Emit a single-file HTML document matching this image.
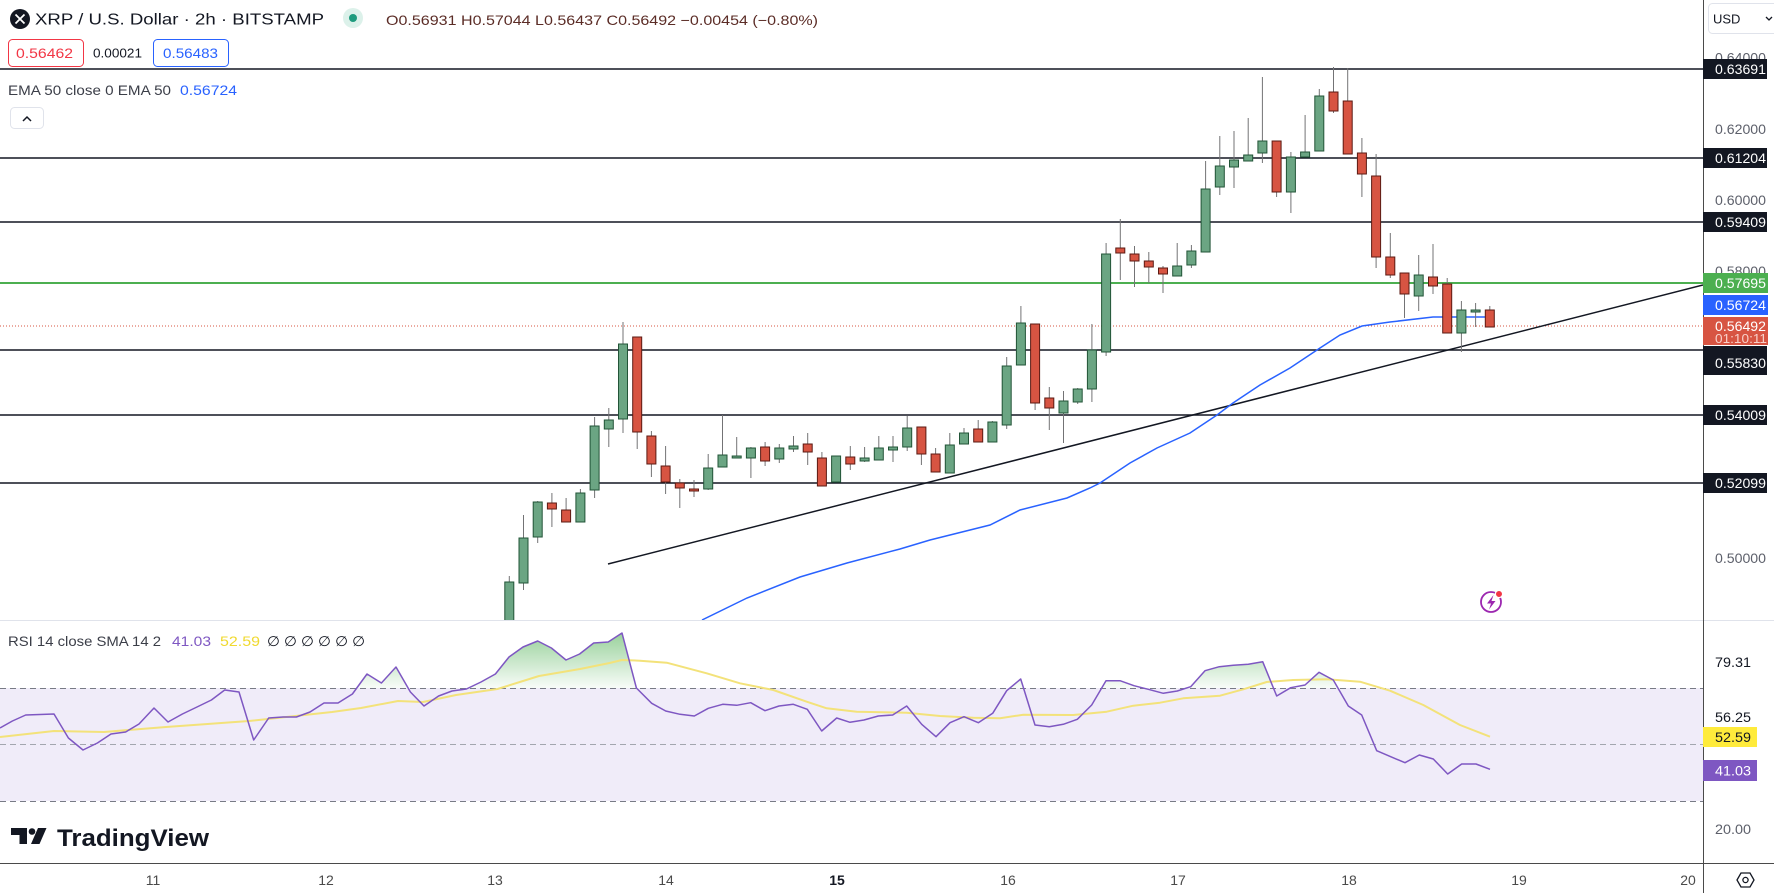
<!DOCTYPE html>
<html><head><meta charset="utf-8"><style>
html,body{margin:0;padding:0;background:#fff;overflow:hidden}
svg{display:block}
text{font-family:"Liberation Sans",Arial,sans-serif}
</style></head><body>
<svg width="1774" height="893" viewBox="0 0 1774 893" xmlns="http://www.w3.org/2000/svg">
<defs>
<clipPath id="mp"><rect x="0" y="0" width="1703" height="620"/></clipPath>
<clipPath id="above70"><rect x="0" y="600" width="1703" height="88"/></clipPath>
<linearGradient id="gf" x1="0" y1="630" x2="0" y2="688" gradientUnits="userSpaceOnUse">
<stop offset="0" stop-color="#4caf50" stop-opacity="0.6"/>
<stop offset="1" stop-color="#4caf50" stop-opacity="0.04"/>
</linearGradient>
</defs>
<rect width="1774" height="893" fill="#fff"/>

<!-- main pane -->
<g clip-path="url(#mp)">
<!-- horizontal levels -->
<g stroke="#131722" stroke-width="1.4">
<line x1="0" y1="69" x2="1703" y2="69"/>
<line x1="0" y1="158" x2="1703" y2="158"/>
<line x1="0" y1="222" x2="1703" y2="222"/>
<line x1="0" y1="350" x2="1703" y2="350"/>
<line x1="0" y1="415" x2="1703" y2="415"/>
<line x1="0" y1="483" x2="1703" y2="483"/>
</g>
<line x1="0" y1="283" x2="1703" y2="283" stroke="#4caf50" stroke-width="2"/>
<line x1="0" y1="326" x2="1703" y2="326" stroke="#d75442" stroke-width="1" stroke-dasharray="1,2"/>
<!-- trend line -->
<line x1="608" y1="564" x2="1703" y2="285" stroke="#131722" stroke-width="1.5"/>
<!-- EMA -->
<polyline fill="none" stroke="#2962ff" stroke-width="1.5" points="702,620 747,598 800,577 847,563 900,549 930,540 990,525 1020,510 1067,498 1090,488 1100,483 1130,463 1157,448 1190,433 1217,415 1233,403 1260,385 1290,368 1320,348 1340,335 1362,326 1390,322 1433,317 1490,317"/>
<!-- wicks -->
<g stroke="#737375" stroke-width="1">
<line x1="509.3" y1="576" x2="509.3" y2="625"/>
<line x1="523.5" y1="515" x2="523.5" y2="590"/>
<line x1="537.7" y1="501" x2="537.7" y2="543"/>
<line x1="551.9" y1="493" x2="551.9" y2="527"/>
<line x1="566.1" y1="498" x2="566.1" y2="522"/>
<line x1="580.4" y1="489" x2="580.4" y2="522"/>
<line x1="594.6" y1="417" x2="594.6" y2="498"/>
<line x1="608.8" y1="408" x2="608.8" y2="447"/>
<line x1="623.0" y1="322" x2="623.0" y2="433"/>
<line x1="637.2" y1="337" x2="637.2" y2="449"/>
<line x1="651.4" y1="431" x2="651.4" y2="477"/>
<line x1="665.6" y1="446" x2="665.6" y2="494"/>
<line x1="679.8" y1="479" x2="679.8" y2="508"/>
<line x1="694.0" y1="480" x2="694.0" y2="497"/>
<line x1="708.2" y1="454" x2="708.2" y2="490"/>
<line x1="722.5" y1="415" x2="722.5" y2="467"/>
<line x1="736.7" y1="437" x2="736.7" y2="458"/>
<line x1="750.9" y1="447" x2="750.9" y2="478"/>
<line x1="765.1" y1="442" x2="765.1" y2="466"/>
<line x1="779.3" y1="444" x2="779.3" y2="463"/>
<line x1="793.5" y1="436" x2="793.5" y2="452"/>
<line x1="807.7" y1="433" x2="807.7" y2="465"/>
<line x1="821.9" y1="452" x2="821.9" y2="486"/>
<line x1="836.1" y1="456" x2="836.1" y2="482"/>
<line x1="850.3" y1="446" x2="850.3" y2="470"/>
<line x1="864.6" y1="447" x2="864.6" y2="462"/>
<line x1="878.8" y1="436" x2="878.8" y2="460"/>
<line x1="893.0" y1="436" x2="893.0" y2="462"/>
<line x1="907.2" y1="416" x2="907.2" y2="451"/>
<line x1="921.4" y1="427" x2="921.4" y2="465"/>
<line x1="935.6" y1="448" x2="935.6" y2="472"/>
<line x1="949.8" y1="433" x2="949.8" y2="473"/>
<line x1="964.0" y1="428" x2="964.0" y2="444"/>
<line x1="978.2" y1="420" x2="978.2" y2="442"/>
<line x1="992.4" y1="421" x2="992.4" y2="442"/>
<line x1="1006.7" y1="357" x2="1006.7" y2="429"/>
<line x1="1020.9" y1="306" x2="1020.9" y2="365"/>
<line x1="1035.1" y1="324" x2="1035.1" y2="410"/>
<line x1="1049.3" y1="387" x2="1049.3" y2="430"/>
<line x1="1063.5" y1="391" x2="1063.5" y2="443"/>
<line x1="1077.7" y1="388" x2="1077.7" y2="404"/>
<line x1="1091.9" y1="324" x2="1091.9" y2="402"/>
<line x1="1106.1" y1="243" x2="1106.1" y2="356"/>
<line x1="1120.3" y1="219" x2="1120.3" y2="280"/>
<line x1="1134.5" y1="246" x2="1134.5" y2="287"/>
<line x1="1148.8" y1="252" x2="1148.8" y2="283"/>
<line x1="1163.0" y1="266" x2="1163.0" y2="293"/>
<line x1="1177.2" y1="243" x2="1177.2" y2="276"/>
<line x1="1191.4" y1="245" x2="1191.4" y2="268"/>
<line x1="1205.6" y1="161" x2="1205.6" y2="252"/>
<line x1="1219.8" y1="136" x2="1219.8" y2="195"/>
<line x1="1234.0" y1="131" x2="1234.0" y2="188"/>
<line x1="1248.2" y1="118" x2="1248.2" y2="161"/>
<line x1="1262.4" y1="77" x2="1262.4" y2="163"/>
<line x1="1276.6" y1="141" x2="1276.6" y2="197"/>
<line x1="1290.9" y1="152" x2="1290.9" y2="213"/>
<line x1="1305.1" y1="115" x2="1305.1" y2="157"/>
<line x1="1319.3" y1="89" x2="1319.3" y2="151"/>
<line x1="1333.5" y1="67" x2="1333.5" y2="113"/>
<line x1="1347.7" y1="68" x2="1347.7" y2="154"/>
<line x1="1361.9" y1="138" x2="1361.9" y2="197"/>
<line x1="1376.1" y1="154" x2="1376.1" y2="268"/>
<line x1="1390.3" y1="233" x2="1390.3" y2="278"/>
<line x1="1404.5" y1="273" x2="1404.5" y2="318"/>
<line x1="1418.7" y1="255" x2="1418.7" y2="311"/>
<line x1="1433.0" y1="244" x2="1433.0" y2="294"/>
<line x1="1447.2" y1="278" x2="1447.2" y2="333"/>
<line x1="1461.4" y1="301" x2="1461.4" y2="352"/>
<line x1="1475.6" y1="303" x2="1475.6" y2="327"/>
<line x1="1489.8" y1="306" x2="1489.8" y2="327"/>
</g>
<!-- green bodies -->
<g fill="#6ba583" stroke="#225437" stroke-width="1" transform="translate(0.5,0)">
<rect x="504.3" y="582" width="9" height="43"/>
<rect x="518.5" y="538" width="9" height="45"/>
<rect x="532.7" y="502" width="9" height="35"/>
<rect x="575.4" y="493" width="9" height="29"/>
<rect x="589.6" y="426" width="9" height="64"/>
<rect x="603.8" y="420" width="9" height="9"/>
<rect x="618.0" y="344" width="9" height="75"/>
<rect x="703.2" y="468" width="9" height="21"/>
<rect x="717.5" y="455" width="9" height="12"/>
<rect x="731.7" y="456" width="9" height="2"/>
<rect x="745.9" y="448" width="9" height="10"/>
<rect x="774.3" y="448" width="9" height="11"/>
<rect x="788.5" y="446" width="9" height="3"/>
<rect x="831.1" y="456" width="9" height="26"/>
<rect x="859.6" y="458" width="9" height="3"/>
<rect x="873.8" y="448" width="9" height="12"/>
<rect x="888.0" y="447" width="9" height="3"/>
<rect x="902.2" y="428" width="9" height="19"/>
<rect x="944.8" y="445" width="9" height="28"/>
<rect x="959.0" y="433" width="9" height="11"/>
<rect x="987.4" y="422" width="9" height="20"/>
<rect x="1001.7" y="366" width="9" height="59"/>
<rect x="1015.9" y="323" width="9" height="42"/>
<rect x="1058.5" y="401" width="9" height="12"/>
<rect x="1072.7" y="389" width="9" height="13"/>
<rect x="1086.9" y="350" width="9" height="39"/>
<rect x="1101.1" y="254" width="9" height="98"/>
<rect x="1172.2" y="266" width="9" height="10"/>
<rect x="1186.4" y="251" width="9" height="14"/>
<rect x="1200.6" y="189" width="9" height="63"/>
<rect x="1214.8" y="166" width="9" height="21"/>
<rect x="1229.0" y="160" width="9" height="7"/>
<rect x="1243.2" y="155" width="9" height="6"/>
<rect x="1257.4" y="141" width="9" height="12"/>
<rect x="1285.9" y="157" width="9" height="35"/>
<rect x="1300.1" y="152" width="9" height="5"/>
<rect x="1314.3" y="96" width="9" height="55"/>
<rect x="1413.7" y="275" width="9" height="21"/>
<rect x="1456.4" y="310" width="9" height="23"/>
<rect x="1470.6" y="310" width="9" height="2"/>
</g>
<!-- red bodies -->
<g fill="#d75442" stroke="#5b1a13" stroke-width="1" transform="translate(0.5,0)">
<rect x="546.9" y="503" width="9" height="6"/>
<rect x="561.1" y="510" width="9" height="12"/>
<rect x="632.2" y="337" width="9" height="95"/>
<rect x="646.4" y="436" width="9" height="28"/>
<rect x="660.6" y="466" width="9" height="16"/>
<rect x="674.8" y="483" width="9" height="5"/>
<rect x="689.0" y="489" width="9" height="2"/>
<rect x="760.1" y="447" width="9" height="14"/>
<rect x="802.7" y="444" width="9" height="8"/>
<rect x="816.9" y="458" width="9" height="28"/>
<rect x="845.3" y="457" width="9" height="7"/>
<rect x="916.4" y="427" width="9" height="27"/>
<rect x="930.6" y="454" width="9" height="18"/>
<rect x="973.2" y="429" width="9" height="13"/>
<rect x="1030.1" y="324" width="9" height="79"/>
<rect x="1044.3" y="398" width="9" height="10"/>
<rect x="1115.3" y="248" width="9" height="5"/>
<rect x="1129.5" y="254" width="9" height="7"/>
<rect x="1143.8" y="261" width="9" height="6"/>
<rect x="1158.0" y="268" width="9" height="6"/>
<rect x="1271.6" y="141" width="9" height="51"/>
<rect x="1328.5" y="92" width="9" height="19"/>
<rect x="1342.7" y="101" width="9" height="53"/>
<rect x="1356.9" y="153" width="9" height="21"/>
<rect x="1371.1" y="176" width="9" height="81"/>
<rect x="1385.3" y="257" width="9" height="18"/>
<rect x="1399.5" y="273" width="9" height="21"/>
<rect x="1428.0" y="277" width="9" height="9"/>
<rect x="1442.2" y="284" width="9" height="49"/>
<rect x="1484.8" y="310" width="9" height="17"/>
</g>
</g>

<!-- lightning icon -->
<circle cx="1491" cy="602" r="10" fill="#fff" stroke="#9c27b0" stroke-width="1.8"/>
<path d="M1493.5,595 L1487,603.5 L1491,603.5 L1489,609.5 L1495.5,601 L1491.5,601 Z" fill="#9c27b0"/>
<circle cx="1499" cy="594" r="3.6" fill="#f23645" stroke="#fff" stroke-width="1.2"/>

<!-- pane separator -->
<line x1="0" y1="620.5" x2="1774" y2="620.5" stroke="#e0e3eb" stroke-width="1"/>

<!-- RSI pane -->
<rect x="0" y="688" width="1703" height="113" fill="#f0ecf9"/>
<g stroke-width="1" stroke-dasharray="6,4">
<line x1="0" y1="688.5" x2="1703" y2="688.5" stroke="#787b86"/>
<line x1="0" y1="744.5" x2="1703" y2="744.5" stroke="#a3a6af"/>
<line x1="0" y1="801.5" x2="1703" y2="801.5" stroke="#787b86"/>
</g>
<polygon clip-path="url(#above70)" fill="url(#gf)" points="0,688 0,728 12.4,721 25.7,715 54,714 68.4,738 83,750 97.4,743 111,734 125.6,732 139,724 154,708 168,722 182.4,714 197,707 211.4,700 224.7,690 239,692 253.7,740 268.7,718 283,717 296.4,717 310,712 324,703 338,703 352.4,694 367,674 381.4,683 396,667 410.4,692 424,706 438.6,696 452,691 466.4,689 481,682 495.4,674 509,657 523,647 537.7,641 551.4,648 566,660 579.6,654 593.7,643 608.2,642 622,633 636.4,688 651.7,703.3 665.7,711 680,714.3 694.3,716 708.3,708.3 722.7,704.3 736.7,705.3 750.7,702.7 765,710.7 779,706 793.3,704.3 807.3,709.3 821.7,731 836.7,718 850,722.3 864,720 878.3,716 892.7,715 906.7,706 921.7,724.3 936,736.7 950,722.7 964,716.7 978.3,722.7 992.7,713.3 1006.7,690.7 1020.7,679 1035,725 1049.3,726.7 1063.3,724.3 1077.3,719.3 1091.7,705 1106,680.7 1120,680.7 1134,685.7 1148.3,689.3 1163.3,693.3 1177.3,691 1190.7,686.7 1205,670.7 1219.3,666.7 1233.3,665.3 1248.3,664.3 1262.7,661.7 1276.7,696 1290.7,687.7 1305,685 1319,672.3 1333.3,680 1348.3,706 1361.7,715 1376.7,750.7 1390.7,756.7 1405,762.7 1419.3,755 1433.3,759 1447.7,774 1461.7,764 1476,764 1490,769.3 1490,688"/>
<polyline fill="none" stroke="#f3e27a" stroke-width="2" stroke-linejoin="round" points="0,737 54,731 104,732 166,727 249,721 332,712 361,708 398,701 423,702 456,695 497.5,689 539,676 580,669 609.5,663 622,660 640,660.7 666.7,662.7 706.7,673.3 740,683.3 773.3,690 806.7,701.7 826.7,708.3 856.7,711.7 906.7,712.7 940,716 973.3,717.7 1000,718.3 1023.3,714.7 1073.3,715 1106.7,711.7 1133.3,705.7 1160,702.7 1183.3,698.3 1220,695.7 1243.3,689.3 1266.7,682 1293.3,680 1326.7,679.3 1360,681.7 1390,690.7 1423.3,705 1460,725 1490,736.7"/>
<polyline fill="none" stroke="#7e57c2" stroke-width="1.5" stroke-linejoin="round" points="0,728 12.4,721 25.7,715 54,714 68.4,738 83,750 97.4,743 111,734 125.6,732 139,724 154,708 168,722 182.4,714 197,707 211.4,700 224.7,690 239,692 253.7,740 268.7,718 283,717 296.4,717 310,712 324,703 338,703 352.4,694 367,674 381.4,683 396,667 410.4,692 424,706 438.6,696 452,691 466.4,689 481,682 495.4,674 509,657 523,647 537.7,641 551.4,648 566,660 579.6,654 593.7,643 608.2,642 622,633 636.4,688 651.7,703.3 665.7,711 680,714.3 694.3,716 708.3,708.3 722.7,704.3 736.7,705.3 750.7,702.7 765,710.7 779,706 793.3,704.3 807.3,709.3 821.7,731 836.7,718 850,722.3 864,720 878.3,716 892.7,715 906.7,706 921.7,724.3 936,736.7 950,722.7 964,716.7 978.3,722.7 992.7,713.3 1006.7,690.7 1020.7,679 1035,725 1049.3,726.7 1063.3,724.3 1077.3,719.3 1091.7,705 1106,680.7 1120,680.7 1134,685.7 1148.3,689.3 1163.3,693.3 1177.3,691 1190.7,686.7 1205,670.7 1219.3,666.7 1233.3,665.3 1248.3,664.3 1262.7,661.7 1276.7,696 1290.7,687.7 1305,685 1319,672.3 1333.3,680 1348.3,706 1361.7,715 1376.7,750.7 1390.7,756.7 1405,762.7 1419.3,755 1433.3,759 1447.7,774 1461.7,764 1476,764 1490,769.3"/>

<!-- TradingView logo -->
<path d="M11,828 H27 V844 H19.5 V835 H11 Z" fill="#131722"/>
<circle cx="32" cy="831.5" r="3.3" fill="#131722"/>
<path d="M38,828 H46.5 L39.5,844 H31 Z" fill="#131722"/>
<text x="57" y="846" font-size="24" font-weight="bold" fill="#131722" textLength="152" lengthAdjust="spacingAndGlyphs">TradingView</text>

<!-- axes lines -->
<line x1="0" y1="863.5" x2="1774" y2="863.5" stroke="#4a4a4a" stroke-width="1"/>
<line x1="1703.5" y1="0" x2="1703.5" y2="893" stroke="#4a4a4a" stroke-width="1"/>

<!-- time labels -->
<g font-size="14" fill="#4a4a4a" text-anchor="middle" dominant-baseline="central">
<text x="153" y="880">11</text>
<text x="326" y="880">12</text>
<text x="495" y="880">13</text>
<text x="666" y="880">14</text>
<text x="837" y="880" font-weight="bold" fill="#131722">15</text>
<text x="1008" y="880">16</text>
<text x="1178" y="880">17</text>
<text x="1349" y="880">18</text>
<text x="1519" y="880">19</text>
<text x="1688" y="880">20</text>
</g>
<!-- settings icon -->
<path d="M1737,880 L1741,873 L1750,873 L1754,880 L1750,887 L1741,887 Z" fill="none" stroke="#131722" stroke-width="1.3"/>
<circle cx="1745.5" cy="880" r="2.6" fill="none" stroke="#131722" stroke-width="1.3"/>

<!-- price axis -->
<rect x="1708.5" y="3.5" width="70" height="30" rx="4" fill="#fff" stroke="#e0e3eb"/>
<text x="1713" y="19" font-size="13" fill="#131722" dominant-baseline="central">USD</text>
<path d="M1766,17 L1769,20 L1772,17" fill="none" stroke="#131722" stroke-width="1.3"/>

<g font-size="14" fill="#5d606b" dominant-baseline="central">
<text x="1715" y="57.5" textLength="51" lengthAdjust="spacingAndGlyphs">0.64000</text>
<text x="1715" y="129" textLength="51" lengthAdjust="spacingAndGlyphs">0.62000</text>
<text x="1715" y="200" textLength="51" lengthAdjust="spacingAndGlyphs">0.60000</text>
<text x="1715" y="271" textLength="51" lengthAdjust="spacingAndGlyphs">0.58000</text>
<text x="1715" y="558" textLength="51" lengthAdjust="spacingAndGlyphs">0.50000</text>
</g>
<g fill="#131722">
<rect x="1703" y="59" width="64" height="20"/>
<rect x="1703" y="148" width="64" height="20"/>
<rect x="1703" y="212" width="64" height="20"/>
<rect x="1703" y="346" width="64" height="29"/>
<rect x="1703" y="405" width="64" height="20"/>
<rect x="1703" y="473" width="64" height="20"/>
</g>
<rect x="1703" y="273" width="65" height="20" fill="#4caf50"/>
<rect x="1703" y="295" width="65" height="20" fill="#2962ff"/>
<rect x="1703" y="317" width="65" height="28" fill="#d75442"/>
<g font-size="14" fill="#fff" dominant-baseline="central">
<text x="1715" y="69" textLength="51" lengthAdjust="spacingAndGlyphs">0.63691</text>
<text x="1715" y="158" textLength="51" lengthAdjust="spacingAndGlyphs">0.61204</text>
<text x="1715" y="222" textLength="51" lengthAdjust="spacingAndGlyphs">0.59409</text>
<text x="1715" y="283" textLength="51" lengthAdjust="spacingAndGlyphs">0.57695</text>
<text x="1715" y="305" textLength="51" lengthAdjust="spacingAndGlyphs">0.56724</text>
<text x="1715" y="326" textLength="51" lengthAdjust="spacingAndGlyphs">0.56492</text>
<text x="1715" y="338.5" font-size="13" fill="#f8d0c9" textLength="52" lengthAdjust="spacingAndGlyphs">01:10:11</text>
<text x="1715" y="363" textLength="51" lengthAdjust="spacingAndGlyphs">0.55830</text>
<text x="1715" y="415" textLength="51" lengthAdjust="spacingAndGlyphs">0.54009</text>
<text x="1715" y="483" textLength="51" lengthAdjust="spacingAndGlyphs">0.52099</text>
</g>

<!-- RSI axis -->
<rect x="1704" y="652" width="56" height="20" fill="#fff"/>
<rect x="1704" y="707" width="56" height="20" fill="#fff"/>
<rect x="1703" y="727" width="54" height="20" fill="#ffeb3b"/>
<rect x="1703" y="760" width="54" height="21" fill="#7e57c2"/>
<g font-size="14" dominant-baseline="central">
<text x="1715" y="662" fill="#131722" textLength="36" lengthAdjust="spacingAndGlyphs">79.31</text>
<text x="1715" y="717" fill="#131722" textLength="36" lengthAdjust="spacingAndGlyphs">56.25</text>
<text x="1715" y="737" fill="#131722" textLength="36" lengthAdjust="spacingAndGlyphs">52.59</text>
<text x="1715" y="770.5" fill="#fff" textLength="36" lengthAdjust="spacingAndGlyphs">41.03</text>
<text x="1715" y="829" fill="#5d606b" textLength="36" lengthAdjust="spacingAndGlyphs">20.00</text>
</g>

<!-- header legend -->
<circle cx="20" cy="19" r="10" fill="#131722"/>
<path d="M15.5,14.5 L24.5,23.5 M24.5,14.5 L15.5,23.5" stroke="#fff" stroke-width="1.8"/>
<text x="35" y="20" font-size="16" fill="#131722" dominant-baseline="central" textLength="289" lengthAdjust="spacingAndGlyphs">XRP / U.S. Dollar · 2h · BITSTAMP</text>
<circle cx="353" cy="18" r="10" fill="#dcf1ea"/>
<circle cx="353" cy="18" r="4" fill="#1e9b7e"/>
<text x="386" y="20" font-size="14" fill="#5b2c26" dominant-baseline="central" textLength="432" lengthAdjust="spacingAndGlyphs">O0.56931 H0.57044 L0.56437 C0.56492 −0.00454 (−0.80%)</text>

<rect x="8.5" y="39.5" width="75" height="27" rx="4" fill="#fff" stroke="#f23645"/>
<text x="16" y="53" font-size="14" fill="#f23645" dominant-baseline="central" textLength="57" lengthAdjust="spacingAndGlyphs">0.56462</text>
<text x="93" y="53" font-size="13" fill="#131722" dominant-baseline="central" textLength="49" lengthAdjust="spacingAndGlyphs">0.00021</text>
<rect x="153.5" y="39.5" width="75" height="27" rx="4" fill="#fff" stroke="#2962ff"/>
<text x="163" y="53" font-size="14" fill="#2962ff" dominant-baseline="central" textLength="55" lengthAdjust="spacingAndGlyphs">0.56483</text>

<text x="8" y="90" font-size="14" fill="#3b3e48" dominant-baseline="central" textLength="163" lengthAdjust="spacingAndGlyphs">EMA 50 close 0 EMA 50</text>
<text x="180" y="90" font-size="14" fill="#2962ff" dominant-baseline="central" textLength="57" lengthAdjust="spacingAndGlyphs">0.56724</text>

<rect x="10.5" y="107.5" width="33" height="21" rx="4" fill="#fff" stroke="#e0e3eb"/>
<path d="M23,121 L27,117 L31,121" fill="none" stroke="#131722" stroke-width="1.5"/>

<!-- RSI legend -->
<g font-size="14" dominant-baseline="central">
<text x="8" y="641" fill="#3b3e48" textLength="153" lengthAdjust="spacingAndGlyphs">RSI 14 close SMA 14 2</text>
<text x="172" y="641" fill="#7e57c2" textLength="39" lengthAdjust="spacingAndGlyphs">41.03</text>
<text x="220" y="641" fill="#f0d92f" textLength="40" lengthAdjust="spacingAndGlyphs">52.59</text>
<text x="267" y="641" fill="#131722" textLength="98" lengthAdjust="spacingAndGlyphs">∅ ∅ ∅ ∅ ∅ ∅</text>
</g>
</svg>
</body></html>
